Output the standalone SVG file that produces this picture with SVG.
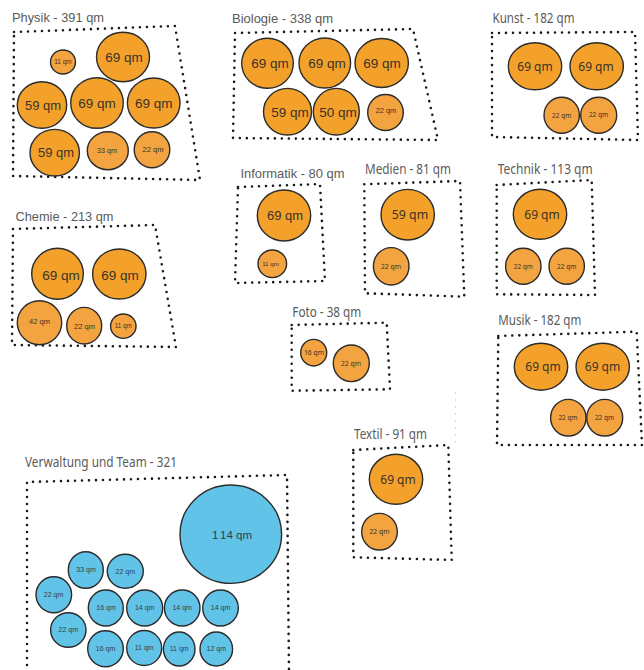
<svg xmlns="http://www.w3.org/2000/svg" width="644" height="670" viewBox="0 0 644 670">
<style>
.bg{fill:#ffffff}
.box{fill:none;stroke:#1a1a1a;stroke-width:2.6;stroke-dasharray:0 7;stroke-linecap:round;stroke-linejoin:round}
.faint{fill:none;stroke:#b8b8b8;stroke-width:1.3;stroke-dasharray:0 7;stroke-linecap:round}
.o{fill:#F4A12B;stroke:#2b2b2b;stroke-width:1.4}
.os{fill:#F3A33F;stroke:#2b2b2b;stroke-width:1.4}
.b{fill:#62C3E9;stroke:#2b2b2b;stroke-width:1.4}
.t{fill:#5a5a5a;font-family:"Noto Sans","Open Sans",sans-serif;font-size:13.5px}
.ta{fill:#5a5a5a;font-family:"Liberation Sans",Arial,sans-serif;font-size:13.5px}
.l{fill:#3a3328;font-family:"Liberation Sans",Arial,sans-serif;text-anchor:middle}
.n{fill:#3a3328;font-family:"Noto Sans","Open Sans",sans-serif;text-anchor:middle}
.lb{fill:#2f3f48;font-family:"Liberation Sans",Arial,sans-serif;text-anchor:middle}
</style>
<rect class="bg" x="0" y="0" width="644" height="670"/>
<g id="connectors"/>

<g id="physik">
<text class="ta" x="12" y="22" textLength="92" lengthAdjust="spacingAndGlyphs">Physik - 391 qm</text>
<path class="box" d="M14,32 L175,26 L200,180 L13,176 Z"/>
<ellipse class="os" cx="63" cy="62" rx="12.5" ry="12"/><text class="l" x="63" y="64.3" font-size="6.5">11 qm</text>
<ellipse class="o" cx="123" cy="57" rx="26.5" ry="24.7"/><text class="l" x="124" y="61.8" font-size="13.5">69 qm</text>
<ellipse class="o" cx="42" cy="105" rx="24.7" ry="23.3"/><text class="l" x="43" y="109.6" font-size="13">59 qm</text>
<ellipse class="o" cx="97" cy="103" rx="26.3" ry="25.3"/><text class="l" x="97" y="107.8" font-size="13.5">69 qm</text>
<ellipse class="o" cx="153.7" cy="103" rx="26.3" ry="25"/><text class="l" x="153.7" y="107.8" font-size="13.5">69 qm</text>
<ellipse class="o" cx="54.7" cy="152.7" rx="24.7" ry="23.3"/><text class="l" x="56" y="157.3" font-size="13">59 qm</text>
<ellipse class="os" cx="107.8" cy="150.7" rx="20.5" ry="19"/><text class="l" x="107" y="153.2" font-size="7.2">33 qm</text>
<ellipse class="os" cx="152" cy="149.7" rx="17.8" ry="18"/><text class="l" x="153" y="152.3" font-size="7.5">22 qm</text>
</g>

<g id="biologie">
<text class="ta" x="232" y="23" textLength="101" lengthAdjust="spacingAndGlyphs">Biologie - 338 qm</text>
<path class="box" d="M235,33 L413,29 L438,140 L233,138 Z"/>
<ellipse class="o" cx="267.5" cy="63.3" rx="25.8" ry="25"/><text class="l" x="270" y="68" font-size="13.5">69 qm</text>
<ellipse class="o" cx="324.8" cy="63" rx="25.8" ry="25"/><text class="l" x="327" y="67.8" font-size="13.5">69 qm</text>
<ellipse class="o" cx="381.7" cy="63" rx="26.7" ry="24.5"/><text class="l" x="382" y="67.8" font-size="13.5">69 qm</text>
<ellipse class="o" cx="287.5" cy="111.7" rx="24" ry="23.3"/><text class="l" x="290" y="116.5" font-size="13.5">59 qm</text>
<ellipse class="o" cx="336.3" cy="111.7" rx="23" ry="23.3"/><text class="l" x="338" y="116.5" font-size="13.5">50 qm</text>
<ellipse class="os" cx="385.5" cy="112.5" rx="17.8" ry="18"/><text class="l" x="386" y="113" font-size="7.4">22 qm</text>
</g>

<g id="kunst">
<text class="t" x="492.5" y="23" textLength="82" lengthAdjust="spacingAndGlyphs">Kunst - 182 qm</text>
<path class="box" d="M492,33 L635,32 L638,140 L492,137 Z"/>
<ellipse class="o" cx="535" cy="66.3" rx="26.7" ry="23.5"/><text class="n" x="535" y="70.5" font-size="12">69 qm</text>
<ellipse class="o" cx="596.7" cy="66.3" rx="26.7" ry="23.5"/><text class="n" x="596" y="70.5" font-size="12">69 qm</text>
<ellipse class="os" cx="561.7" cy="115.3" rx="17.7" ry="18"/><text class="n" x="561.7" y="117.6" font-size="6.5">22 qm</text>
<ellipse class="os" cx="598.7" cy="115.3" rx="18" ry="18"/><text class="n" x="598.5" y="117" font-size="6.5">22 qm</text>
</g>

<g id="chemie">
<text class="ta" x="15.5" y="221" textLength="98" lengthAdjust="spacingAndGlyphs">Chemie - 213 qm</text>
<path class="box" d="M13,229 L155,225 L176,347 L12,345 Z"/>
<ellipse class="o" cx="57.5" cy="273.8" rx="25.8" ry="25.5"/><text class="l" x="61" y="280" font-size="13.5">69 qm</text>
<ellipse class="o" cx="119.3" cy="274" rx="26.7" ry="25"/><text class="l" x="120" y="280" font-size="13.5">69 qm</text>
<ellipse class="os" cx="39.5" cy="322.8" rx="22.2" ry="22"/><text class="l" x="39.5" y="323.5" font-size="7.5">42 qm</text>
<ellipse class="os" cx="84.2" cy="325.7" rx="17.5" ry="18.3"/><text class="l" x="84.5" y="329" font-size="7.5">22 qm</text>
<ellipse class="os" cx="123.3" cy="326.2" rx="12.7" ry="12.2"/><text class="l" x="123.3" y="328.3" font-size="6.3">11 qm</text>
</g>

<g id="informatik">
<text class="ta" x="240.5" y="178" textLength="104" lengthAdjust="spacingAndGlyphs">Informatik - 80 qm</text>
<path class="box" d="M238,187 L320,184 L325,281 L235,283 Z"/>
<ellipse class="o" cx="284" cy="215.5" rx="26.7" ry="25.5"/><text class="l" x="285" y="220" font-size="13">69 qm</text>
<ellipse class="os" cx="272.3" cy="263.8" rx="14.3" ry="13.8"/><text class="l" x="270.5" y="265.8" font-size="6.2">11 qm</text>
</g>

<g id="medien">
<text class="t" x="365" y="174.3" textLength="86" lengthAdjust="spacingAndGlyphs">Medien - 81 qm</text>
<path class="box" d="M364.3,184.3 L460,181 L464.3,296.7 L365,293.3 Z"/>
<ellipse class="o" cx="407.7" cy="214.7" rx="26.7" ry="25.3"/><text class="n" x="410" y="219" font-size="12.3">59 qm</text>
<ellipse class="os" cx="391.2" cy="266.3" rx="17.8" ry="18.7"/><text class="n" x="391" y="268.6" font-size="6.8">22 qm</text>
</g>

<g id="technik">
<text class="t" x="497.7" y="174.3" textLength="95" lengthAdjust="spacingAndGlyphs">Technik - 113 qm</text>
<path class="box" d="M496.7,185 L591.7,180 L595,295 L496.7,294.3 Z"/>
<ellipse class="o" cx="540" cy="214.3" rx="26.7" ry="25"/><text class="n" x="542" y="218.6" font-size="12">69 qm</text>
<ellipse class="os" cx="523.3" cy="266.3" rx="17.7" ry="18"/><text class="n" x="523.3" y="268.5" font-size="6.5">22 qm</text>
<ellipse class="os" cx="566.7" cy="266.3" rx="17.7" ry="18"/><text class="n" x="566.7" y="268.5" font-size="6.5">22 qm</text>
</g>

<g id="musik">
<text class="t" x="498.3" y="325" textLength="83" lengthAdjust="spacingAndGlyphs">Musik - 182 qm</text>
<path class="box" d="M498.3,336 L636.7,331.7 L642,445 L497,445 Z"/>
<ellipse class="o" cx="541" cy="366.7" rx="26.7" ry="23.5"/><text class="n" x="543" y="371" font-size="12">69 qm</text>
<ellipse class="o" cx="602.7" cy="366.7" rx="26.7" ry="23.5"/><text class="n" x="602.5" y="371" font-size="12">69 qm</text>
<ellipse class="os" cx="568.3" cy="417.7" rx="17.7" ry="18.3"/><text class="n" x="568" y="420" font-size="6.5">22 qm</text>
<ellipse class="os" cx="604.7" cy="417.7" rx="18" ry="18.3"/><text class="n" x="604.5" y="420" font-size="6.5">22 qm</text>
</g>

<g id="foto">
<text class="t" x="292.3" y="316.7" textLength="69" lengthAdjust="spacingAndGlyphs">Foto - 38 qm</text>
<path class="box" d="M291.7,325 L386.7,322.7 L390,389.3 L291.7,390.7 Z"/>
<ellipse class="os" cx="313.7" cy="352.7" rx="13" ry="13.3"/><text class="n" x="314" y="355" font-size="6.8">16 qm</text>
<ellipse class="os" cx="351.3" cy="363.3" rx="18" ry="18.3"/><text class="n" x="351" y="365.6" font-size="6.8">22 qm</text>
</g>

<path class="faint" d="M455.7,393 L455.7,445"/>

<g id="textil">
<text class="t" x="354" y="439.3" textLength="73" lengthAdjust="spacingAndGlyphs">Textil - 91 qm</text>
<path class="box" d="M353.3,450 L448.3,445 L451.7,560 L353.3,557.3 Z"/>
<ellipse class="o" cx="396" cy="479.3" rx="26.7" ry="25"/><text class="n" x="398" y="483.6" font-size="12">69 qm</text>
<ellipse class="os" cx="379.5" cy="531.7" rx="17.8" ry="18.3"/><text class="n" x="379.5" y="534" font-size="6.8">22 qm</text>
</g>

<g id="verwaltung">
<text class="t" x="25" y="467.3" textLength="152" lengthAdjust="spacingAndGlyphs">Verwaltung und Team - 321</text>
<path class="box" d="M27,672 L27,482 L287,475 L289,672"/>
<ellipse class="b" cx="230.8" cy="534.2" rx="50.8" ry="49.2"/><text class="lb" x="232" y="538.5" font-size="11.5"><tspan>1</tspan><tspan dx="2.5">14 qm</tspan></text>
<ellipse class="b" cx="85.8" cy="570" rx="17.5" ry="18.3"/><text class="lb" x="86" y="571.5" font-size="7">33 qm</text>
<ellipse class="b" cx="125.3" cy="571.3" rx="18" ry="17"/><text class="lb" x="125.3" y="573.5" font-size="7">22 qm</text>
<ellipse class="b" cx="53.8" cy="594.7" rx="17.8" ry="18"/><text class="lb" x="53.5" y="597" font-size="7">22 qm</text>
<ellipse class="b" cx="68.3" cy="630" rx="17.7" ry="17.3"/><text class="lb" x="68.3" y="632.3" font-size="7">22 qm</text>
<ellipse class="b" cx="105.8" cy="608" rx="17.5" ry="18"/><text class="lb" x="106" y="610.4" font-size="7">16 qm</text>
<ellipse class="b" cx="144.7" cy="608" rx="18" ry="18"/><text class="lb" x="144.7" y="610.4" font-size="7">14 qm</text>
<ellipse class="b" cx="182.2" cy="608" rx="17.8" ry="18"/><text class="lb" x="182.2" y="610.4" font-size="7">14 qm</text>
<ellipse class="b" cx="220.5" cy="608" rx="17.8" ry="18"/><text class="lb" x="220.5" y="610.4" font-size="7">14 qm</text>
<ellipse class="b" cx="105.5" cy="648.7" rx="17.8" ry="18"/><text class="lb" x="105.5" y="651" font-size="7">16 qm</text>
<ellipse class="b" cx="144.2" cy="648" rx="17.5" ry="17.5"/><text class="lb" x="144.2" y="650.4" font-size="7">11 qm</text>
<ellipse class="b" cx="179.2" cy="649" rx="15.8" ry="17"/><text class="lb" x="179.2" y="651.4" font-size="7">11 qm</text>
<ellipse class="b" cx="216.3" cy="649" rx="16.3" ry="17"/><text class="lb" x="216.3" y="651.4" font-size="7">12 qm</text>
</g>
</svg>
